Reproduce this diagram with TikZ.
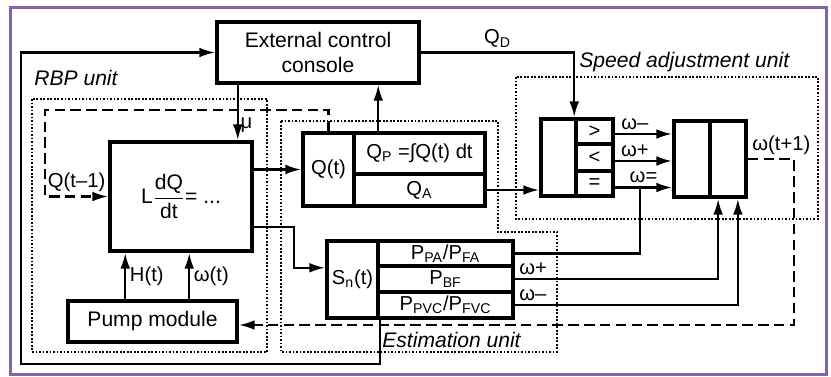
\documentclass[tikz,border=0pt]{standalone}
\usepackage{fontspec}
\setmainfont{Liberation Sans}
\usepackage{amsmath}
\usetikzlibrary{positioning, arrows.meta, calc}
\definecolor{frameviolet}{RGB}{131,100,170}

\begin{document}
\begin{tikzpicture}[
    x=0.02cm, y=-0.02cm,
    >={Latex[length=9pt,width=5.5pt]},
    % Thick block with text
    block/.style={draw, line width=2pt, inner sep=0pt, align=center, font=\fontsize{12}{14}\selectfont},
    % Table cell of a block
    cell/.style={draw, line width=2pt, inner sep=0pt, font=\fontsize{11.5}{13}\selectfont},
    % Dotted unit region
    region/.style={line width=1pt, dash pattern=on 1pt off 1pt},
    % Arrow styles
    arr/.style={->, line width=1.35pt},
    wire/.style={line width=1.35pt},
    dasharr/.style={->, line width=1.35pt, dash pattern=on 6pt off 3pt},
    % Labels
    lbl/.style={font=\fontsize{11.5}{13}\selectfont, inner sep=2pt},
    unitlbl/.style={font=\fontsize{12}{14}\selectfont\itshape, anchor=west, inner sep=0pt},
]
\useasboundingbox (0,0) rectangle (831,376);

% ============================================================
% Frame and unit regions
% ============================================================
\draw[frameviolet, line width=1.7pt] (10.5,7.5) rectangle (826.5,374.5);

% RBP unit
\draw[region] (32,99) rectangle (267,352);
\node[unitlbl] (rbplbl) at (34,78) {RBP unit};

% Estimation unit
\draw[region] (281,121) -- (498,121) -- (498,232) -- (557,232) -- (557,352) -- (281,352) -- cycle;
\node[unitlbl] (estlbl) at (382,340) {Estimation unit};

% Speed adjustment unit
\draw[region] (516,77) rectangle (818,219);
\node[unitlbl] (speedlbl) at (579,62) {Speed adjustment unit};

% ============================================================
% Blocks
% ============================================================
\node[block, minimum width=4.04cm, minimum height=1.22cm] (console) at (318,52.5) {External control\\console};
\node[block, minimum width=2.84cm, minimum height=2.18cm] (model) at (181,196.5)
    {L$\dfrac{\text{dQ}}{\text{dt}}$= ...};
\node[block, minimum width=3.38cm, minimum height=0.82cm] (pump) at (152.5,321.5) {Pump module};

% Q(t) block
\node[cell, minimum width=1.02cm, minimum height=1.46cm] (qt) at (328.5,169.5) {Q(t)};
\node[cell, minimum width=2.62cm, minimum height=0.82cm] (qp) at (419.5,153.5) {Q\textsubscript{P} =∫Q(t) dt};
\node[cell, minimum width=2.62cm, minimum height=0.64cm] (qa) at (419.5,190) {Q\textsubscript{A}};

% S_n(t) block
\node[cell, minimum width=1.02cm, minimum height=1.54cm] (sn) at (352.5,279.5) {S\textsubscript{n}(t)};
\node[cell, minimum width=2.7cm, minimum height=0.5cm] (ppa) at (445.5,253.5) {P\textsubscript{PA}/P\textsubscript{FA}};
\node[cell, minimum width=2.7cm, minimum height=0.52cm] (pbf) at (445.5,279) {P\textsubscript{BF}};
\node[cell, minimum width=2.7cm, minimum height=0.52cm] (ppvc) at (445.5,305) {P\textsubscript{PVC}/P\textsubscript{FVC}};

% Comparator
\node[cell, minimum width=0.7cm, minimum height=1.54cm] (cmpl) at (558.5,157.5) {};
\node[cell, minimum width=0.74cm, minimum height=0.5cm] (gt) at (594.5,131.5) {>};
\node[cell, minimum width=0.74cm, minimum height=0.54cm] (lt) at (594.5,157.5) {<};
\node[cell, minimum width=0.74cm, minimum height=0.5cm] (eq) at (594.5,183.5) {=};

% Speed actuator
\node[cell, minimum width=0.72cm, minimum height=1.52cm] (actl) at (692,159) {};
\node[cell, minimum width=0.72cm, minimum height=1.52cm] (actr) at (728,159) {};

% ============================================================
% Connections
% ============================================================
% S_n -> external console (outer loop)
\coordinate (fbcorner) at (21,364);
\draw[arr] (sn.south east) |- (fbcorner) |- (console.west);

% console -> model (mu)
\coordinate (mu) at ([xshift=-0.32cm]model.north east);
\draw[arr] (mu |- console.south) -- (mu) node[lbl, pos=0.72, right, inner sep=1pt] (mulbl) {μ};

% Q(t) -> console
\coordinate (qup) at ([xshift=0.52cm]qp.north west);
\draw[arr] (qup) -- (qup |- console.south);

% model -> Q(t)
\draw[arr] (qt.west -| model.east) -- (qt.west);

% model -> S_n(t)
\draw[arr] ([yshift=-0.61cm]model.east) -- ++(40,0) |- (sn.west |- ppa.south);

% Q(t-1) dashed loop
\coordinate (loopcorner) at (45,110);
\draw[dasharr] (qt.north) |- (loopcorner) |- (model.west)
    node[lbl, pos=0.75, above] (qprev) {Q(t–1)};

% Q_A -> comparator
\draw[arr] (qa.east) -- (qa.east -| cmpl.west);

% console -> comparator (Q_D)
\draw[arr] (console.east) -| (gt.north west) node[lbl, pos=0.25, above] (qdlbl) {Q\textsubscript{D}};

% comparator -> actuator
\coordinate (gtout) at ([yshift=-0.05cm]gt.east);
\coordinate (ltout) at ([yshift=-0.07cm]lt.east);
\coordinate (eqout) at ([yshift=-0.08cm]eq.east);
\draw[arr] (gtout) -- (gtout -| actl.west) node[lbl, pos=0.35, above] {ω–};
\draw[arr] (ltout) -- (ltout -| actl.west) node[lbl, pos=0.35, above] {ω+};
\draw[arr] (eqout) -- (eqout -| actl.west) node[lbl, pos=0.5, above] {ω=};

% estimation -> actuator
\coordinate (eqjoin) at ($(eqout)!0.44!(eqout -| actl.west)$);
\coordinate (wplus) at ($(actr.south west)!0.25!(actr.south east)$);
\coordinate (wminus) at ($(actr.south west)!0.75!(actr.south east)$);
\draw[wire] (ppa.east) -| (eqjoin);
\draw[arr] (pbf.east) -| (wplus) node[lbl, pos=0, anchor=south west] {ω+};
\draw[arr] (ppvc.east) -| (wminus) node[lbl, pos=0, anchor=south west] {ω–};

% actuator -> pump (omega(t+1))
\coordinate (pumpin) at ([yshift=-0.07cm]pump.east);
\draw[dasharr] (actr.east) -- ++(46,0) node[lbl, pos=0, anchor=south west] (wnext) {ω(t+1)} |- (pumpin);

% pump -> model
\coordinate (hx) at ([xshift=1.18cm]pump.north west);
\coordinate (wx) at ([xshift=2.46cm]pump.north west);
\draw[arr] (hx) -- (hx |- model.south) node[lbl, midway, right] {H(t)};
\draw[arr] (wx) -- (wx |- model.south) node[lbl, midway, right] {ω(t)};

\end{tikzpicture}
\end{document}
